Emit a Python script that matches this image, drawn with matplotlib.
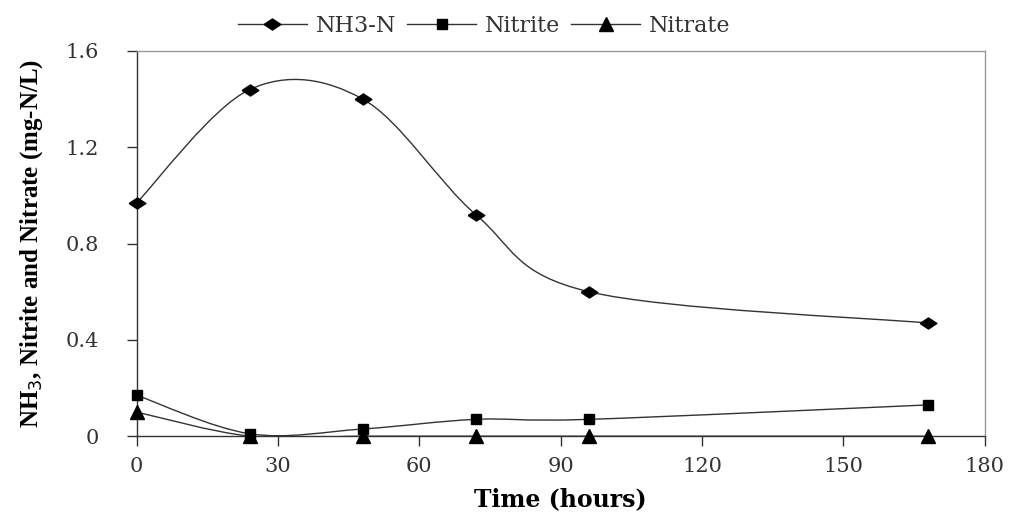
import matplotlib
matplotlib.use("Agg")
import matplotlib.pyplot as plt
from matplotlib.path import Path
from matplotlib.patches import PathPatch
from matplotlib.lines import Line2D
import numpy as np

plt.rcParams['font.family'] = ['DejaVu Serif']

# sampling times (hours) and concentrations (mg-N/L)
time_h = [0, 24, 48, 72, 96, 168]
nh3_n = [0.97, 1.44, 1.40, 0.92, 0.60, 0.47]
nitrite = [0.17, 0.01, 0.03, 0.07, 0.07, 0.13]
nitrate = [0.10, 0.0, 0.0, 0.0, 0.0, 0.0]


def smooth_path(x, y):
    # Excel-style smoothed line: cubic bezier through the points (Catmull-Rom control points)
    x = np.asarray(x, float)
    y = np.asarray(y, float)
    n = len(x)
    verts = [(x[0], y[0])]
    codes = [Path.MOVETO]
    for i in range(n - 1):
        p0 = max(i - 1, 0)
        p3 = min(i + 2, n - 1)
        c1 = (x[i] + (x[i + 1] - x[p0]) / 6, y[i] + (y[i + 1] - y[p0]) / 6)
        c2 = (x[i + 1] - (x[p3] - x[i]) / 6, y[i + 1] - (y[p3] - y[i]) / 6)
        verts += [c1, c2, (x[i + 1], y[i + 1])]
        codes += [Path.CURVE4] * 3
    return Path(verts, codes)


# slightly flattened diamond like the original excel export
wide_diamond = [(-1.5, 0), (0, 1), (1.5, 0), (0, -1), (-1.5, 0)]

fig = plt.figure(figsize=(10.13, 5.15), dpi=100)
ax = fig.add_axes([0.135, 0.153, 0.837, 0.748])

series = [
    (nh3_n, wide_diamond, 12, "NH3-N"),
    (nitrite, "s", 7, "Nitrite"),
    (nitrate, "^", 10, "Nitrate"),
]
handles = []
for vals, mk, ms, name in series:
    ax.add_patch(PathPatch(smooth_path(time_h, vals), fill=False, edgecolor="#333333", lw=1.0, zorder=2))
    ax.plot(time_h, vals, linestyle="none", marker=mk, markersize=ms, color="black", zorder=3, clip_on=False)
    handles.append(Line2D([], [], color="#333333", lw=1.0, marker=mk, markersize=ms, markerfacecolor="black",
                          markeredgecolor="black", label=name))

ax.set_xlim(0, 180)
ax.set_ylim(0, 1.6)
ax.set_xticks([0, 30, 60, 90, 120, 150, 180])
ax.set_yticks([0, 0.4, 0.8, 1.2, 1.6])
ax.set_yticklabels(["0", "0.4", "0.8", "1.2", "1.6"])
ax.tick_params(axis="both", direction="out", length=7, width=1, labelsize=15, colors="#333333")
ax.tick_params(axis="x", pad=8)
ax.tick_params(axis="y", pad=20)

for s in ax.spines.values():
    s.set_linewidth(1.0)
    s.set_color("#333333")
ax.spines["right"].set_color("#999999")
ax.spines["top"].set_color("#999999")

ax.set_xlabel("Time (hours)", fontsize=17, fontweight="bold", labelpad=8)
ax.set_ylabel("NH$_3$, Nitrite and Nitrate (mg-N/L)", fontsize=18, fontweight="bold", labelpad=15,
              family="Liberation Serif")

fig.legend(handles=handles, loc="center", bbox_to_anchor=(0.478, 0.95), ncol=3, frameon=False,
           fontsize=16, handlelength=3.1, columnspacing=0.5, handletextpad=0.4, labelcolor="#333333")

fig.savefig("out.png", dpi=100)
